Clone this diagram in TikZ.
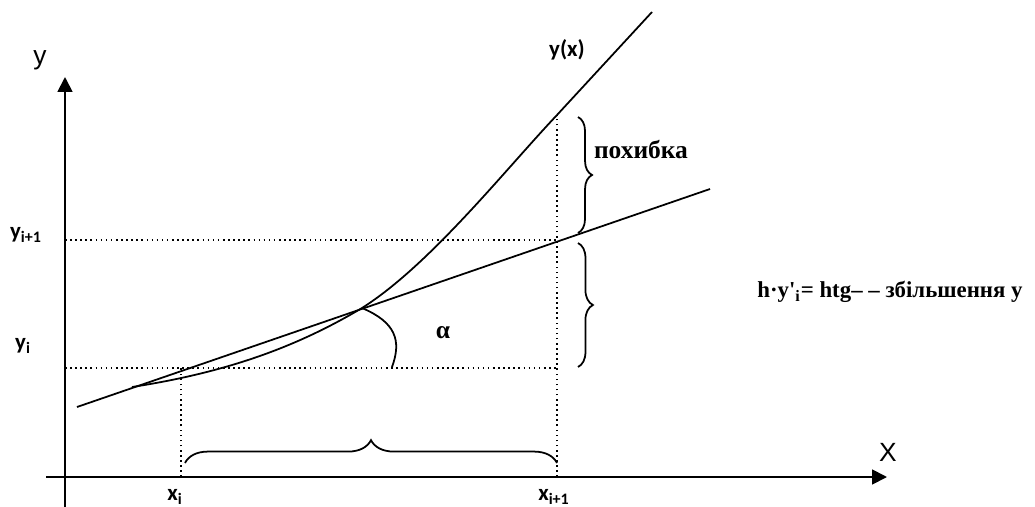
\documentclass[tikz,border=0pt]{standalone}
\usepackage{fontspec}
\setmainfont{Liberation Serif}
\newfontfamily\calibrifont{Carlito}
\newfontfamily\arialfont{Liberation Sans}
\usetikzlibrary{arrows.meta,
                decorations.pathreplacing}

\begin{document}
\begin{tikzpicture}[x=0.02cm, y=-0.02cm,
       axis/.style = {line width=1pt, -{Triangle[length=8.5pt, width=8.5pt]}},
      guide/.style = {dotted, line width=0.9pt},
      curve/.style = {line width=1pt},
        lbl/.style = {inner sep=0pt, font=\calibrifont\bfseries\fontsize{13}{15}\selectfont},
        txt/.style = {inner sep=0pt, font=\bfseries\fontsize{14.5}{17}\selectfont},
        brc/.style = {decorate, decoration={brace, amplitude=#1}, line width=1pt}
                        ]
    \useasboundingbox (0,0) rectangle (1035,507);

    % Axes
    \coordinate (ys) at (65,507);
    \coordinate (ye) at (65,77);
    \coordinate (xs) at (46,477);
    \coordinate (xe) at (887,477);
    \draw[axis] (ys) -- (ye);
    \draw[axis] (xs) -- (xe);

    % Points on the grid
    \coordinate (Yi) at (65,368);
    \coordinate (Yj) at (65,240);
    \coordinate (Xi) at (181,477);
    \coordinate (Xj) at (557,477);
    \coordinate (Tj) at (557,240);
    \coordinate (Cj) at (557,115);
    \coordinate (P)  at (362,308);

    % Dotted guides
    \draw[guide] (Yj) -- (Tj);
    \draw[guide] (Yi) -- (Xj |- Yi);
    \draw[guide] (Xi) -- (Xi |- Yi);
    \draw[guide] (Xj) -- (Cj);

    % Tangent line
    \coordinate (t0) at (77,407);
    \coordinate (t1) at (710,189);
    \draw[curve] (t0) -- (t1);

    % The curve y(x)
    \coordinate (c0) at (132,387);
    \coordinate (c1) at (652,12);
    \draw[curve] (c0) .. controls (230,372) and (300,345) .. (P)
                      .. controls (430,265) and (505,170) .. (Cj) -- (c1);

    % Angle
    \draw[curve] (P) .. controls (395,322) and (402,340) .. (392,367);

    % Braces
    \draw[brc=8pt]  (578,117) -- (578,233);
    \draw[brc=8.5pt] (578,243) -- (578,367);
    \draw[brc=13pt] (185,463) -- (557,463);

    % Labels
    \node[font=\arialfont\fontsize{15}{18}\selectfont, inner sep=0pt] (ylab) at (40,60) {y};
    \node[font=\arialfont\fontsize{15}{18}\selectfont, inner sep=0pt] (xlab) at (888,452) {X};
    \node[lbl] (yxlab) at (567,50) {y(x)};
    \node[lbl] (yjlab) at (26,235) {y\textsubscript{i+1}};
    \node[lbl] (yilab) at (23,346) {y\textsubscript{i}};
    \node[lbl] (xilab) at (175,497) {x\textsubscript{i}};
    \node[lbl] (xjlab) at (554,497) {x\textsubscript{i+1}};
    \node[txt] (err)   at (641,150) {похибка};
    \node[txt] (alpha) at (443,333) {α};
    \node[txt, font=\bfseries\fontsize{13}{15}\selectfont] (incr) at (890,292)
        {h·y\textquotesingle\textsubscript{i}= htg– – збільшення у};

\end{tikzpicture}
\end{document}
